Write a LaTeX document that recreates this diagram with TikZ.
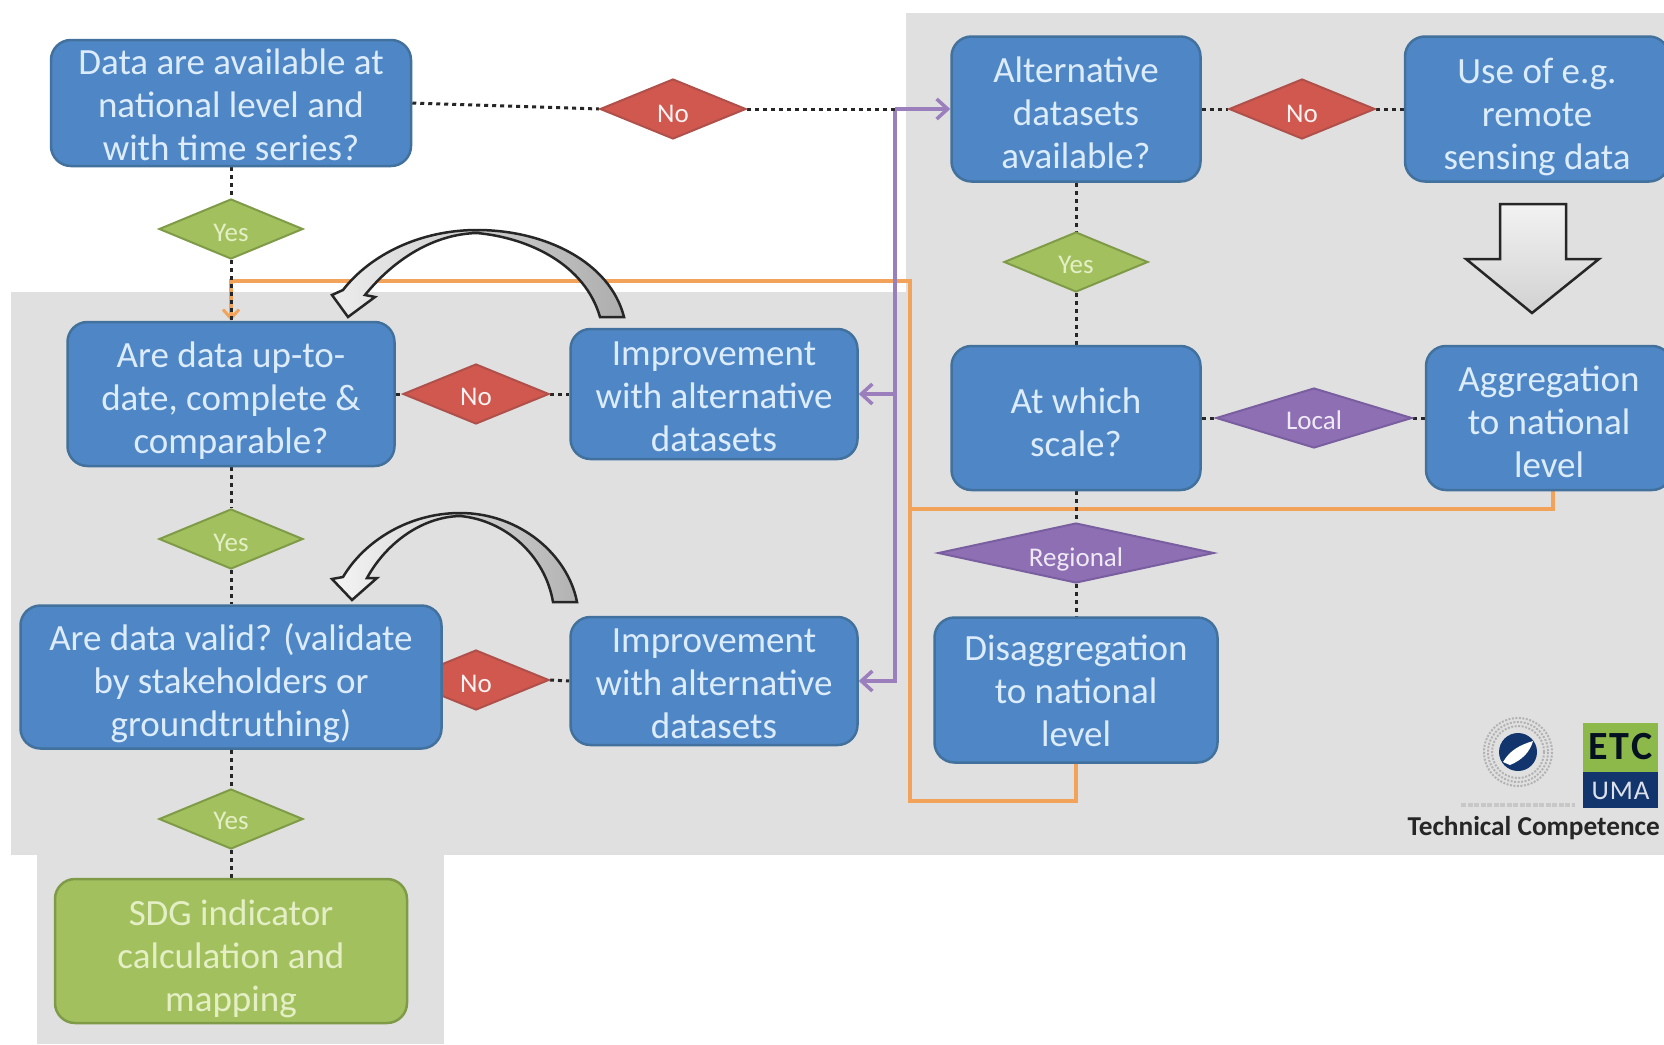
\documentclass[tikz,border=0pt]{standalone}
\usepackage{fontspec}
\setmainfont{Carlito}
\usetikzlibrary{shapes.geometric,arrows.meta,backgrounds}
\pgfdeclarelayer{bgzones}
\pgfdeclarelayer{wires}
\pgfsetlayers{bgzones,wires,main}
\definecolor{zone}{HTML}{E0E0E0}
\definecolor{boxblue}{HTML}{4F87C6}
\definecolor{boxblueline}{HTML}{41719C}
\definecolor{paleblue}{HTML}{DCECFB}
\definecolor{boxgreen}{HTML}{A2C15E}
\definecolor{boxgreenline}{HTML}{7F9B48}
\definecolor{palegreen}{HTML}{E4EFC6}
\definecolor{boxred}{HTML}{D0584F}
\definecolor{boxredline}{HTML}{B0504A}
\definecolor{boxpurple}{HTML}{8E6FB4}
\definecolor{boxpurpleline}{HTML}{7A5FA0}
\definecolor{wirepurple}{HTML}{9A7FBC}
\definecolor{wireorange}{HTML}{F3A25A}
\definecolor{logonavy}{HTML}{12356E}
\definecolor{logogreen}{HTML}{8DB84A}
\newcommand{\flowlines}[2]{\raisebox{\dimexpr-9.25pt-#1\relax}[0pt][0pt]{\begin{tabular}[c]{@{}c@{}}#2\end{tabular}}}
\tikzset{
  x=1pt,y=-1pt,
  flowbox/.style={rectangle,rounded corners=20pt,line width=2.5pt,inner sep=0pt,
    font=\fontsize{37}{43}\selectfont},
  bluebox/.style={flowbox,draw=boxblueline,fill=boxblue,text=paleblue},
  greenbox/.style={flowbox,draw=boxgreenline,fill=boxgreen,text=palegreen},
  size/.style 2 args={minimum width=#1,minimum height=#2},
  lowerchoice/.style={execute at begin node={\rule{0pt}{\dimexpr19pt+#1*2\relax}}},
  choice/.style={diamond,aspect=2.4,inner sep=0pt,line width=2pt,font=\fontsize{27}{30}\selectfont},
  nochoice/.style={choice,draw=boxredline,fill=boxred,text=white!92!boxred,size={146pt}{60pt}},
  yeschoice/.style={choice,draw=boxgreenline,fill=boxgreen,text=palegreen,size={144pt}{60pt}},
  scalechoice/.style={choice,aspect=4,draw=boxpurpleline,fill=boxpurple,text=white!85!boxpurple},
  flowwire/.style={line width=3pt,black!85,dash pattern=on 4pt off 4pt},
  orangewire/.style={line width=4pt,wireorange},
  purplewire/.style={line width=4pt,wirepurple},
  barb/.style={-{Straight Barb[length=11pt,width=20pt,line width=3.5pt]}},
  hollowarrow/.style={draw=black!85,line width=2.5pt,line join=miter},
}
\begin{document}
\begin{tikzpicture}
\clip (0,0) rectangle (1664,1044);
% zones
\begin{pgfonlayer}{bgzones}
\fill[white] (0,0) rectangle (1664,1044);
\fill[zone] (906,13) rectangle (1664,855);
\fill[zone] (11,292) rectangle (1664,855);
\fill[zone] (37,855) rectangle (444,1044);
\end{pgfonlayer}

% blue boxes
\node[bluebox,size={360pt}{126pt}] (avail) at (231,103) {\flowlines{2.5pt}{Data are available at\\national level and\\with time series?}};
\node[bluebox,size={249pt}{145pt}] (alt) at (1076,109) {\flowlines{4.5pt}{Alternative\\datasets\\available?}};
\node[bluebox,size={264pt}{145pt}] (remote) at (1537,109) {\flowlines{6pt}{Use of e.g.\\remote\\sensing data}};
\node[bluebox,size={327pt}{144pt}] (uptodate) at (231,394) {\flowlines{5pt}{Are data up-to-\\date, complete \&\\comparable?}};
\node[bluebox,size={287pt}{130pt}] (imp1) at (714,394) {\flowlines{3pt}{Improvement\\with alternative\\datasets}};
\node[bluebox,size={249pt}{144pt}] (scale) at (1076,418) {\flowlines{5pt}{At which\\scale?}};
\node[bluebox,size={246pt}{144pt}] (agg) at (1549,418) {\flowlines{4.5pt}{Aggregation\\to national\\level}};
\node[nochoice] (no4) at (476,680) {\phantom{No}};
\node[bluebox,size={421pt}{143pt}] (valid) at (231,677) {\flowlines{5pt}{Are data valid? (validate\\by stakeholders or\\groundtruthing)}};
\node[bluebox,size={287pt}{128pt}] (imp2) at (714,681) {\flowlines{3pt}{Improvement\\with alternative\\datasets}};
\node[bluebox,size={283pt}{145pt}] (disagg) at (1076,690) {\flowlines{1.5pt}{Disaggregation\\to national\\level}};
\node[greenbox,size={352pt}{144pt}] (sdg) at (231,951) {\flowlines{6pt}{SDG indicator\\calculation and\\mapping}};

% decisions
\node[nochoice,lowerchoice=4pt] (no1) at (673,109) {No};
\node[nochoice,lowerchoice=4pt] (no2) at (1302,109) {No};
\node[nochoice,lowerchoice=2pt] (no3) at (476,394) {No};
\node[font=\fontsize{27}{30}\selectfont,text=white!92!boxred] (no4label) at (476,684) {No};
\node[yeschoice,lowerchoice=3pt] (yes1) at (231,229) {Yes};
\node[yeschoice,lowerchoice=2pt] (yes2) at (1076,262) {Yes};
\node[yeschoice,lowerchoice=3pt] (yes3) at (231,539) {Yes};
\node[yeschoice,lowerchoice=1pt] (yes4) at (231,819) {Yes};
\node[scalechoice,lowerchoice=2pt,size={196pt}{60pt}] (local) at (1314,418) {Local};
\node[scalechoice,lowerchoice=6pt,size={276pt}{60pt}] (regional) at (1076,553) {Regional};

% connectors
\coordinate (pj) at (895,109);
\coordinate (ocorner) at (910,801);
\coordinate (otop) at (910,281);
\coordinate (ojoin) at (1553,509);
\begin{pgfonlayer}{wires}
\draw[orangewire,-{Straight Barb[length=9pt,width=16pt,line width=3pt]}] (disagg.south) -- (disagg.south |- ocorner) -- (ocorner) -- (otop) -- (uptodate.north |- otop) -- (uptodate.north);
\draw[orangewire] (agg.south -| ojoin) -- (ojoin) -- (otop |- ojoin);
\draw[purplewire,barb] (pj) -- (alt.west);
\draw[purplewire,barb] (pj) -- (pj |- imp2.east) -- (imp2.east);
\draw[purplewire,barb] (pj |- imp1.east) -- (imp1.east);
\foreach \a/\b in {avail.east/no1.west,avail.south/yes1.north,yes1.south/uptodate.north,
  alt.east/no2.west,no2.east/remote.west,alt.south/yes2.north,yes2.south/scale.north,
  scale.east/local.west,local.east/agg.west,scale.south/regional.north,regional.south/disagg.north,
  uptodate.east/no3.west,no3.east/imp1.west,uptodate.south/yes3.north,yes3.south/valid.north,
  no4.east/imp2.west,valid.south/yes4.north,yes4.south/sdg.north}
  \draw[flowwire] (\a) -- (\b);
\draw[flowwire] (no1.east) -- (pj);
\end{pgfonlayer}

% curved and block arrows
\draw[hollowarrow,left color=black!7,right color=black!32]
  (624,317) .. controls (610,262) and (545,230) .. (477,230)
  .. controls (420,230) and (370,255) .. (343,290) -- (332,295) -- (348,317) -- (375,297) -- (365,295)
  .. controls (395,258) and (435,234) .. (477,233)
  .. controls (530,238) and (585,265) .. (600,317) -- cycle;
\draw[hollowarrow,left color=black!4,right color=black!30]
  (577,602) .. controls (568,555) and (520,513) .. (460,513)
  .. controls (410,513) and (365,540) .. (343,577) -- (332,579) -- (352,600) -- (377,578) -- (367,578)
  .. controls (385,545) and (420,517) .. (460,516)
  .. controls (505,520) and (545,555) .. (553,602) -- cycle;
\draw[hollowarrow,top color=white!95!black,bottom color=black!18]
  (1500,204) -- (1566,204) -- (1566,259) -- (1599,259) -- (1532,313) -- (1466,259) -- (1500,259) -- cycle;

% logos
\foreach \r in {34,30,26}
  \draw[black!30,line width=2pt,dash pattern=on 2pt off 1.5pt] (1518,752) circle[radius=\r];
\fill[logonavy] (1518,752) circle[radius=19];
\fill[white] (1503,762) .. controls (1510,750) and (1520,745) .. (1533,741) .. controls (1530,752) and (1522,760) .. (1510,765) -- cycle;
\draw[black!22,line width=4pt,dash pattern=on 5pt off 1.5pt] (1461,805) -- (1575,805);
\fill[logogreen] (1583,723) rectangle (1658,772);
\fill[logonavy] (1583,772) rectangle (1658,808);
\node[font=\bfseries\fontsize{40}{40}\selectfont,text=black!70!logonavy,inner sep=0pt] (etc) at (1620.5,747) {E\kern2pt T\kern2pt C};
\node[font=\fontsize{27}{27}\selectfont,text=white!85!logonavy,inner sep=0pt] (uma) at (1620.5,791) {U\kern1pt M\kern1pt A};
\node[font=\bfseries\fontsize{27.3}{30}\selectfont,text=black!85,inner sep=0pt,anchor=east] (tech) at (1660,828) {Technical Competence};
\end{tikzpicture}
\end{document}
